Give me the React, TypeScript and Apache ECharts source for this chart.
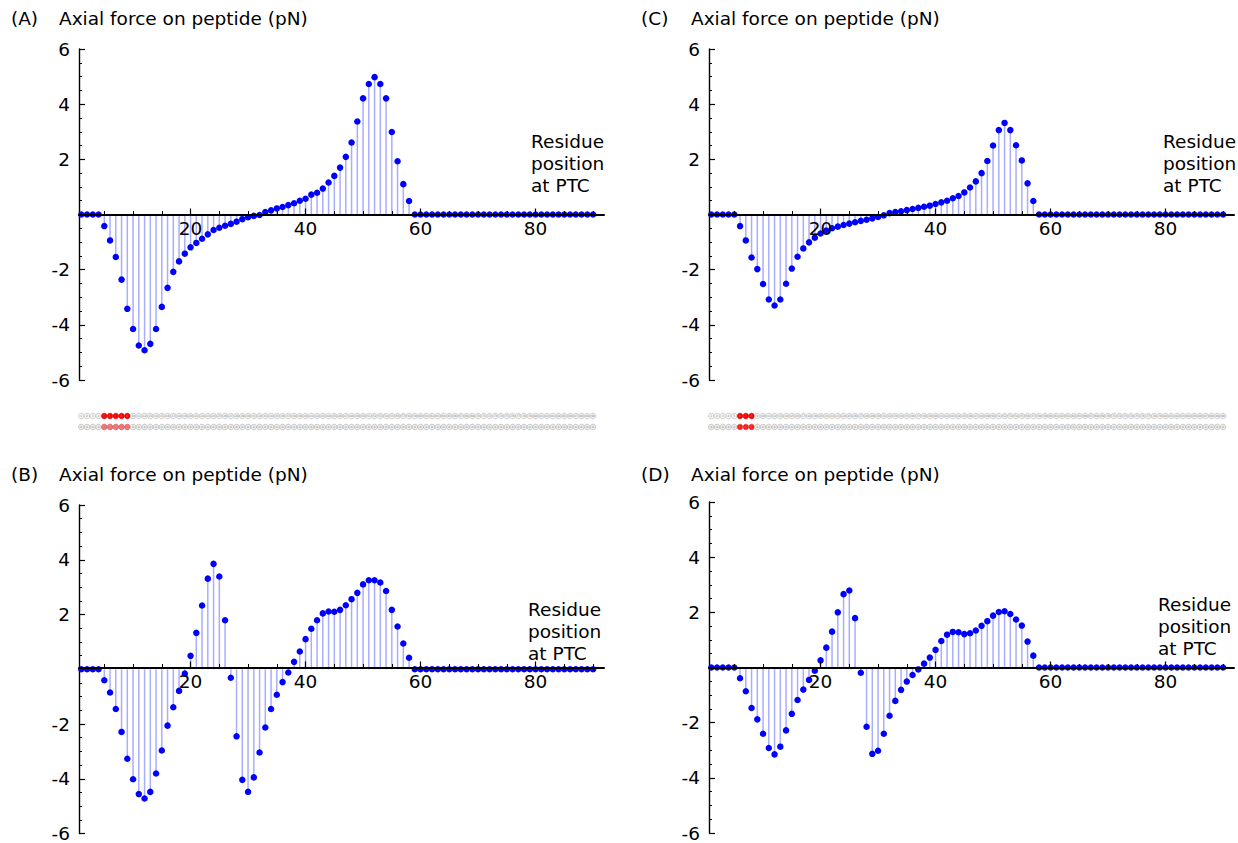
import React, { useEffect, useRef } from "react";
import * as echarts from "echarts";

// Residue positions at the PTC (x values of every stem)
const positions = [
  1, 2, 3, 4, 5, 6, 7, 8, 9, 10, 11, 12, 13, 14, 15, 16, 17, 18, 19, 20,
  21, 22, 23, 24, 25, 26, 27, 28, 29, 30, 31, 32, 33, 34, 35, 36, 37, 38, 39, 40,
  41, 42, 43, 44, 45, 46, 47, 48, 49, 50, 51, 52, 53, 54, 55, 56, 57, 58, 59, 60,
  61, 62, 63, 64, 65, 66, 67, 68, 69, 70, 71, 72, 73, 74, 75, 76, 77, 78, 79, 80,
  81, 82, 83, 84, 85, 86, 87, 88, 89, 90,
];

// Axial force on peptide (pN), one value per residue position
const forceA = [
  0, 0, 0, 0, -0.42, -0.94, -1.54, -2.36, -3.42, -4.15,
  -4.75, -4.92, -4.69, -4.15, -3.35, -2.66, -2.08, -1.7, -1.42, -1.19,
  -1.03, -0.88, -0.72, -0.56, -0.48, -0.41, -0.34, -0.26, -0.17, -0.1,
  -0.05, -0.02, 0.09, 0.15, 0.22, 0.27, 0.34, 0.41, 0.5, 0.57,
  0.72, 0.79, 0.94, 1.16, 1.4, 1.7, 2.09, 2.61, 3.37, 4.21,
  4.73, 4.98, 4.73, 4.21, 2.99, 1.93, 1.1, 0.49, 0, 0,
  0, 0, 0, 0, 0, 0, 0, 0, 0, 0,
  0, 0, 0, 0, 0, 0, 0, 0, 0, 0,
  0, 0, 0, 0, 0, 0, 0, 0, 0, 0,
];

const forceB = [
  0, 0, 0, 0, -0.4, -0.85, -1.45, -2.29, -3.27, -4.02,
  -4.56, -4.72, -4.48, -3.81, -2.97, -2.06, -1.39, -0.79, -0.16, 0.49,
  1.33, 2.33, 3.31, 3.85, 3.39, 1.79, -0.31, -2.45, -4.04, -4.48,
  -3.95, -3.04, -2.13, -1.45, -0.93, -0.47, -0.12, 0.27, 0.65, 1.1,
  1.48, 1.79, 2.04, 2.11, 2.1, 2.17, 2.34, 2.56, 2.79, 3.1,
  3.25, 3.25, 3.17, 2.86, 2.17, 1.56, 0.94, 0.42, 0, 0,
  0, 0, 0, 0, 0, 0, 0, 0, 0, 0,
  0, 0, 0, 0, 0, 0, 0, 0, 0, 0,
  0, 0, 0, 0, 0, 0, 0, 0, 0, 0,
];

const forceC = [
  0, 0, 0, 0, 0, -0.42, -0.94, -1.56, -1.98, -2.52,
  -3.08, -3.3, -3.08, -2.51, -1.96, -1.53, -1.23, -1.01, -0.84, -0.69,
  -0.58, -0.5, -0.44, -0.38, -0.33, -0.28, -0.23, -0.19, -0.14, -0.09,
  -0.03, 0.05, 0.09, 0.12, 0.16, 0.2, 0.24, 0.28, 0.32, 0.38,
  0.44, 0.5, 0.59, 0.67, 0.8, 0.98, 1.2, 1.5, 1.94, 2.5,
  3.06, 3.32, 3.06, 2.51, 1.96, 1.13, 0.49, 0, 0, 0,
  0, 0, 0, 0, 0, 0, 0, 0, 0, 0,
  0, 0, 0, 0, 0, 0, 0, 0, 0, 0,
  0, 0, 0, 0, 0, 0, 0, 0, 0, 0,
];

const forceD = [
  0, 0, 0, 0, 0, -0.39, -0.86, -1.47, -1.88, -2.4,
  -2.92, -3.15, -2.87, -2.28, -1.68, -1.18, -0.8, -0.45, -0.12, 0.26,
  0.72, 1.3, 2.0, 2.66, 2.79, 1.79, -0.19, -2.15, -3.13, -3.02,
  -2.4, -1.75, -1.21, -0.81, -0.51, -0.27, -0.07, 0.14, 0.36, 0.64,
  0.96, 1.19, 1.29, 1.28, 1.21, 1.24, 1.34, 1.51, 1.68, 1.88,
  2.01, 2.04, 1.94, 1.74, 1.52, 0.94, 0.43, 0, 0, 0,
  0, 0, 0, 0, 0, 0, 0, 0, 0, 0,
  0, 0, 0, 0, 0, 0, 0, 0, 0, 0,
  0, 0, 0, 0, 0, 0, 0, 0, 0, 0,
];

// Tick values
const xMajorTicks = [20, 40, 60, 80];
const xMinorTicks = [5, 10, 15, 25, 30, 35, 45, 50, 55, 65, 70, 75, 85, 90];

// Texts
const panelLetters = ["(A)", "(B)", "(C)", "(D)"];
const panelTitle = "Axial force on peptide (pN)";
const xAxisNote = "Residue\nposition\nat PTC";

// Residue strips under panels A and C
const stripHighlightA = [5, 6, 7, 8, 9];
const stripHighlightC = [6, 7, 8];
const stripResidueLetter = "A";

const FONT = "DejaVu Sans";
const FS = 18.5;
const X_MIN = 0.6;
const X_MAX = 91.9;

type PanelCfg = {
  data: number[];
  grid: { left: number; top: number; width: number; height: number };
  letter: [number, number];
  title: [number, number];
  note: [number, number];
};

const panels: PanelCfg[] = [
  { data: forceA, grid: { left: 79, top: 49, width: 525, height: 331 }, letter: [11, 21], title: [59, 21], note: [531, 130] },
  { data: forceB, grid: { left: 79, top: 505, width: 525, height: 332 }, letter: [11, 477], title: [59, 477], note: [528, 598] },
  { data: forceC, grid: { left: 709, top: 49, width: 525, height: 331 }, letter: [641, 21], title: [691, 21], note: [1163, 130] },
  { data: forceD, grid: { left: 709, top: 502, width: 525, height: 331 }, letter: [641, 477], title: [691, 477], note: [1158, 593] },
];

const strips = [
  { grid: { left: 79, top: 405, width: 525, height: 33 }, highlight: stripHighlightA, row2Color: "#f27a7a" },
  { grid: { left: 709, top: 405, width: 525, height: 33 }, highlight: stripHighlightC, row2Color: "#ff1a1a" },
];

function buildOption() {
  const grid: any[] = [];
  const xAxis: any[] = [];
  const yAxis: any[] = [];
  const series: any[] = [];
  const graphic: any[] = [];

  panels.forEach((p, i) => {
    grid.push({ ...p.grid, containLabel: false });
    const yIndex = yAxis.length;
    yAxis.push({
      gridIndex: i,
      type: "value",
      min: -6,
      max: 6,
      interval: 2,
      axisLine: { show: true, onZero: false, lineStyle: { color: "#000", width: 1.4 } },
      axisTick: { show: true, inside: true, length: 6, lineStyle: { color: "#000", width: 1.2 } },
      minorTick: { show: true, splitNumber: 4, length: 3, lineStyle: { color: "#000", width: 1 } },
      axisLabel: {
        margin: 9,
        color: "#000",
        fontSize: FS,
        fontFamily: FONT,
        formatter: (v: number) => (v === 0 ? "" : String(v)),
      },
      splitLine: { show: false },
    });
    // x axis sits on y = 0, which is the middle of the symmetric -6..6 range
    const zeroOffset = -p.grid.height / 2;
    const xMajorIndex = xAxis.length;
    xAxis.push({
      gridIndex: i,
      type: "value",
      min: X_MIN,
      max: X_MAX,
      position: "bottom",
      offset: zeroOffset,
      axisLine: { show: true, onZero: false, lineStyle: { color: "#000", width: 2 } },
      axisTick: { show: true, inside: true, length: 6, customValues: xMajorTicks, lineStyle: { color: "#000", width: 1.2 } },
      axisLabel: { show: true, customValues: xMajorTicks, margin: 4, color: "#000", fontSize: FS, fontFamily: FONT },
      splitLine: { show: false },
      z: 5,
    });
    xAxis.push({
      gridIndex: i,
      type: "value",
      min: X_MIN,
      max: X_MAX,
      position: "bottom",
      offset: zeroOffset,
      axisLine: { show: false, onZero: false },
      axisTick: { show: true, inside: true, length: 3.5, customValues: xMinorTicks, lineStyle: { color: "#000", width: 1 } },
      axisLabel: { show: false },
      splitLine: { show: false },
      z: 5,
    });
    const pts = positions.map((x, k) => [x, p.data[k]]);
    series.push({
      type: "bar",
      xAxisIndex: xMajorIndex,
      yAxisIndex: yIndex,
      data: pts,
      barWidth: 1.5,
      itemStyle: { color: "#a9aefc", opacity: 1 },
      silent: true,
      z: 1,
    });
    series.push({
      type: "scatter",
      xAxisIndex: xMajorIndex,
      yAxisIndex: yIndex,
      data: pts,
      symbol: "circle",
      symbolSize: 6.5,
      itemStyle: { color: "#0000ff", opacity: 1 },
      silent: true,
      z: 3,
    });

    graphic.push({
      type: "text",
      left: p.letter[0],
      top: p.letter[1] - 12,
      style: { text: panelLetters[i], font: `${FS}px "${FONT}"`, fill: "#000" },
    });
    graphic.push({
      type: "text",
      left: p.title[0],
      top: p.title[1] - 12,
      style: { text: panelTitle, font: `${FS}px "${FONT}"`, fill: "#000" },
    });
    graphic.push({
      type: "text",
      left: p.note[0],
      top: p.note[1],
      style: { text: xAxisNote, font: `${FS}px "${FONT}"`, fill: "#000", lineHeight: 22 },
    });
  });

  strips.forEach((s) => {
    const gi = grid.length;
    grid.push({ ...s.grid, containLabel: false });
    const xi = xAxis.length;
    xAxis.push({ gridIndex: gi, type: "value", min: X_MIN, max: X_MAX, show: false });
    const yi = yAxis.length;
    yAxis.push({ gridIndex: gi, type: "value", min: 0, max: 3, inverse: true, show: false });
    const row1 = positions.map((x) => {
      const hi = s.highlight.includes(x);
      return {
        value: [x, 1],
        itemStyle: hi
          ? { color: "#ff0000", borderColor: "#e00000", borderWidth: 0.6 }
          : { color: "#f4f4f4", borderColor: "#b4b4b4", borderWidth: 0.6 },
        label: { formatter: String(x) },
      };
    });
    const row2 = positions.map((x) => {
      const hi = s.highlight.includes(x);
      return {
        value: [x, 2],
        itemStyle: hi
          ? { color: s.row2Color, borderColor: "#e04040", borderWidth: 0.6 }
          : { color: "#eeeeee", borderColor: "#aaaaaa", borderWidth: 0.6 },
        label: { formatter: stripResidueLetter },
      };
    });
    series.push({
      type: "scatter",
      xAxisIndex: xi,
      yAxisIndex: yi,
      data: [...row1, ...row2],
      symbol: "circle",
      symbolSize: 5.6,
      itemStyle: { opacity: 1 },
      silent: true,
      label: { show: true, position: "inside", fontSize: 3, color: "#8a8a8a", fontFamily: FONT },
    });
  });

  return {
    animation: false,
    backgroundColor: "#ffffff",
    grid,
    xAxis,
    yAxis,
    series,
    graphic,
  };
}

export default function App() {
  const ref = useRef<HTMLDivElement | null>(null);
  useEffect(() => {
    if (!ref.current) return;
    const chart = echarts.init(ref.current, null, { renderer: "svg" });
    chart.setOption(buildOption() as any);
    return () => chart.dispose();
  }, []);
  return (
    <div
      ref={ref}
      style={{ position: "fixed", left: 0, top: 0, width: 1238, height: 843, background: "#fff" }}
    />
  );
}
